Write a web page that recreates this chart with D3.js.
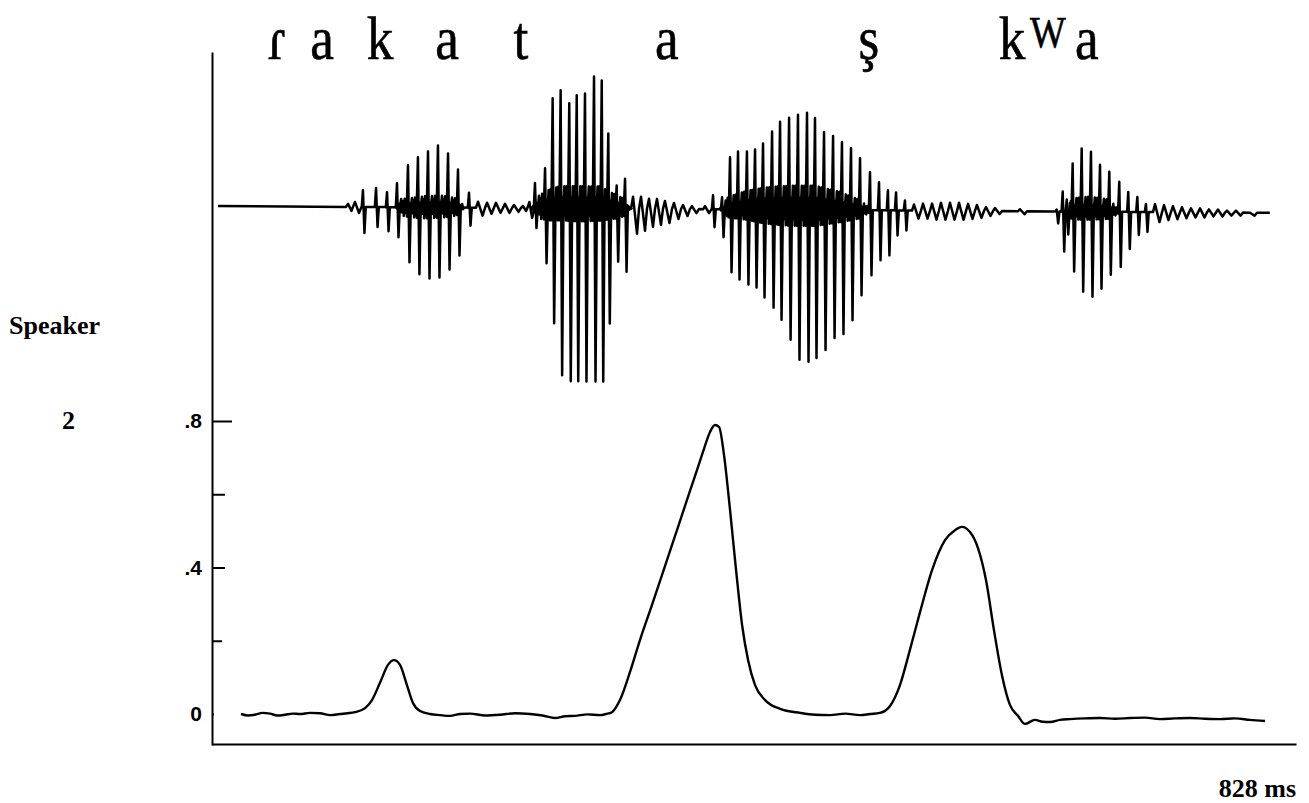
<!DOCTYPE html>
<html>
<head>
<meta charset="utf-8">
<script src="https://cdn.jsdelivr.net/npm/d3@7"></script>
<style>
  html, body { margin: 0; padding: 0; background: #fff; }
  svg { display: block; }
</style>
</head>
<body>
<svg id="chart" width="1309" height="803"></svg>
<script>
// ---- data ---------------------------------------------------------------

// Length of the recorded utterance (ms)
const durationMs = 828;

// Phone transcription written above the waveform and the time (ms) each sits at
const phoneLabels = ["ɾ", "a", "k", "a", "t", "a", "ş", "k", "W", "a"];
const phoneTimes  = [49.6, 84.0, 128.3, 179.5, 236.0, 347.5, 501.8, 611.1, 638.5, 668.3];
const phoneRaised = [false, false, false, false, false, false, false, false, true, false];

// Waveform extent (ms)
const waveStartMs = 4.6;
const waveEndMs = 808.0;

// Glottal pulses of the voiced stretches: [time ms, positive peak, negative peak] (relative amplitude)
const pulsesRa = [
  [115.3, 0.085, 0.13], [125.3, 0.095, 0.10], [133.7, 0.075, 0.12], [141.3, 0.12, 0.15],
  [149.7, 0.21, 0.275], [157.3, 0.25, 0.335], [165.0, 0.28, 0.355], [172.6, 0.31, 0.35],
  [180.3, 0.27, 0.31], [187.9, 0.19, 0.24], [196.3, 0.075, 0.09]
];
const pulsesKa = [
  [246.7, 0.125, 0.10], [254.4, 0.20, 0.275], [260.2, 0.55, 0.575], [266.3, 0.59, 0.835],
  [272.9, 0.525, 0.865], [278.6, 0.565, 0.865], [284.9, 0.575, 0.865], [291.8, 0.66, 0.865],
  [297.7, 0.64, 0.865], [302.7, 0.375, 0.575], [309.1, 0.115, 0.265], [315.5, 0.15, 0.315]
];
const pulsesTa = [
  [382.7, 0.07, 0.09], [389.6, 0.06, 0.14], [395.7, 0.26, 0.315], [401.8, 0.29, 0.35],
  [408.6, 0.29, 0.375], [414.8, 0.30, 0.39], [420.9, 0.33, 0.44], [427.8, 0.39, 0.49],
  [433.9, 0.44, 0.55], [440.8, 0.46, 0.65], [447.6, 0.475, 0.75], [454.5, 0.485, 0.76],
  [460.6, 0.46, 0.74], [467.5, 0.39, 0.70], [474.4, 0.37, 0.64], [481.2, 0.34, 0.62],
  [488.1, 0.31, 0.55], [495.0, 0.26, 0.425], [502.6, 0.19, 0.325], [509.5, 0.14, 0.25],
  [516.3, 0.10, 0.225], [522.5, 0.09, 0.125], [529.3, 0.05, 0.10]
];
const pulsesKwa = [
  [645.2, 0.01, 0.06], [649.8, 0.10, 0.20], [652.9, 0.06, 0.115], [657.4, 0.24, 0.30],
  [664.3, 0.315, 0.40], [671.4, 0.30, 0.425], [678.3, 0.235, 0.385], [685.4, 0.20, 0.315],
  [693.0, 0.15, 0.275], [699.9, 0.10, 0.185], [706.8, 0.075, 0.115], [713.4, 0.04, 0.10]
];

// Low-level ripple (release noise / fricative): [time ms, positive peak, negative peak]
const ripples = [
  [103.9, 0.015, 0.02], [109.2, 0.025, 0.03],
  [203.2, 0.03, 0.04], [210.1, 0.025, 0.03], [216.9, 0.025, 0.025], [223.8, 0.02, 0.025],
  [230.7, 0.015, 0.02], [237.5, 0.01, 0.015], [242.4, 0.03, 0.05],
  [321.6, 0.06, 0.125], [327.7, 0.06, 0.11], [333.8, 0.05, 0.09], [339.9, 0.05, 0.08],
  [346.0, 0.04, 0.07], [352.9, 0.03, 0.05], [359.8, 0.02, 0.035], [366.6, 0.015, 0.02],
  [376.6, 0.015, 0.02],
  [536.2, 0.03, 0.04], [543.1, 0.035, 0.04], [550.0, 0.035, 0.045], [556.8, 0.04, 0.045],
  [563.7, 0.04, 0.045], [570.6, 0.04, 0.045], [577.5, 0.035, 0.04], [584.3, 0.03, 0.035],
  [591.2, 0.02, 0.025], [598.1, 0.015, 0.015], [617.2, 0.01, 0.015],
  [720.3, 0.04, 0.05], [727.2, 0.035, 0.04], [734.0, 0.03, 0.035], [740.9, 0.025, 0.03],
  [747.8, 0.02, 0.025], [754.7, 0.02, 0.025], [761.5, 0.015, 0.02], [768.4, 0.015, 0.02],
  [775.3, 0.01, 0.015], [782.2, 0.01, 0.015], [792.9, 0.0, 0.015]
];

// Dense inter-pulse energy of each vowel: [time ms, extent above, extent below]
const denseRa  = [[139.8, 0, 0], [142.1, 0.04, 0.04], [151.2, 0.045, 0.05], [162.7, 0.055, 0.055],
                  [174.2, 0.06, 0.05], [183.3, 0.05, 0.045], [189.4, 0.04, 0.03], [192.5, 0, 0]];
const denseKa  = [[242.9, 0, 0], [246.7, 0.05, 0.05], [256.7, 0.09, 0.06], [265.8, 0.11, 0.06],
                  [281.1, 0.11, 0.065], [296.4, 0.11, 0.06], [307.8, 0.07, 0.05], [317.7, 0.04, 0.03], [321.6, 0, 0]];
const denseTa  = [[387.3, 0, 0], [394.1, 0.06, 0.04], [407.1, 0.09, 0.05], [422.4, 0.11, 0.07],
                  [441.5, 0.12, 0.08], [460.6, 0.12, 0.08], [479.7, 0.09, 0.06], [495.0, 0.05, 0.04], [504.1, 0, 0]];
const denseKwa = [[652.3, 0, 0], [656.9, 0.065, 0.04], [670.6, 0.075, 0.04], [685.9, 0.06, 0.035], [693.5, 0, 0]];

// Lower trace: time (ms) and value
const traceMs = [
  22.2, 27.5, 32.8, 38.6, 44.3, 50.0, 55.8, 61.5, 67.2, 74.9, 82.5, 90.2, 97.8, 103.5, 109.2,
  116.9, 122.2, 128.3, 134.4, 139.0, 143.6, 148.9, 153.5, 158.9, 166.5, 174.2, 181.8, 189.5,
  197.1, 208.6, 220.0, 231.5, 242.9, 252.5, 262.0, 269.7, 277.3, 286.9, 296.4, 301.0, 305.5,
  311.6, 319.3, 326.9, 336.1, 346.0, 356.0, 365.1, 371.2, 375.8, 380.4, 384.2, 387.3, 391.1,
  395.7, 400.3, 404.9, 409.5, 414.8, 422.5, 433.9, 449.2, 460.6, 472.1, 483.6, 495.0, 502.6,
  510.2, 517.9, 525.5, 533.1, 540.8, 550.0, 559.9, 567.5, 572.9, 579.0, 585.1, 591.2, 597.3,
  603.4, 609.5, 615.6, 621.0, 628.6, 634.4, 640.1, 647.8, 655.4, 666.9, 678.3, 689.8, 701.2,
  712.7, 724.1, 735.6, 747.0, 758.5, 769.9, 781.4, 792.8, 804.3
];
const traceValues = [
  0.000, -0.004, -0.002, 0.003, 0.001, -0.004, -0.002, 0.001, 0.000, 0.003, 0.002, -0.003, 0.000, 0.002, 0.005,
  0.016, 0.038, 0.085, 0.134, 0.147, 0.134, 0.079, 0.030, 0.008, 0.000, -0.003, -0.005, 0.000,
  0.001, -0.004, -0.002, 0.002, 0.000, -0.004, -0.011, -0.006, -0.005, -0.001, -0.003, 0.000, 0.005,
  0.038, 0.115, 0.202, 0.298, 0.404, 0.511, 0.609, 0.674, 0.724, 0.770, 0.789, 0.784, 0.707,
  0.557, 0.393, 0.243, 0.147, 0.079, 0.038, 0.014, 0.003, -0.002, -0.003, 0.001, -0.003, 0.000,
  0.003, 0.022, 0.079, 0.175, 0.278, 0.393, 0.475, 0.502, 0.511, 0.497, 0.453, 0.366, 0.229,
  0.106, 0.025, -0.005, -0.027, -0.016, -0.021, -0.022, -0.016, -0.014, -0.012, -0.011, -0.013, -0.011,
  -0.010, -0.014, -0.012, -0.011, -0.013, -0.014, -0.012, -0.016, -0.019
];

// Value axis ticks and their labels
const tickValues = [0, 0.2, 0.4, 0.6, 0.8];
const tickLabels = ["0", "", ".4", "", ".8"];

// Side and end captions
const speakerCaption = ["Speaker", "2"];
const durationCaption = durationMs + " ms";

// ---- layout -------------------------------------------------------------

const svg = d3.select("#chart");
const ink = "#000";

const x = d3.scaleLinear().domain([0, durationMs]).range([212, 1296]);

// Lower trace scale; the axis line runs past the tick range
const y = d3.scaleLinear().domain([0, 0.8]).range([714, 421]);
const yAxisScale = y.copy().domain([y.invert(745), y.invert(52)]).range([745, 52]);

// Waveform: baseline (slight recorder drift) and amplitude scale
const baseline = d3.scaleLinear().domain([0, durationMs]).range([206, 213]);
const amp = d3.scaleLinear().domain([0, 1]).range([0, 200]);

// Extent of the dense energy at time t (linear between the listed points)
const denseSets = [denseRa, denseKa, denseTa, denseKwa];
function denseAt(t) {
  for (const s of denseSets) {
    if (t < s[0][0] || t > s[s.length - 1][0]) continue;
    for (let k = 0; k < s.length - 1; k++) {
      const a = s[k], b = s[k + 1];
      if (t >= a[0] && t <= b[0]) {
        const f = (t - a[0]) / (b[0] - a[0]);
        return [a[1] + f * (b[1] - a[1]), a[2] + f * (b[2] - a[2])];
      }
    }
  }
  return [0, 0];
}

// ---- waveform -----------------------------------------------------------

const events = []
  .concat(pulsesRa, pulsesKa, pulsesTa, pulsesKwa).map(p => ({ t: p[0], up: p[1], dn: p[2], kind: "pulse" }))
  .concat(ripples.map(p => ({ t: p[0], up: p[1], dn: p[2], kind: "ripple" })))
  .sort((a, b) => a.t - b.t);

const pts = [[x(waveStartMs), baseline(waveStartMs)]];
events.forEach((e, i) => {
  const X = x(e.t), B = baseline(e.t);
  const next = events[i + 1];
  if (e.kind === "pulse") {
    pts.push([X - 1.2, B], [X, B - amp(e.up)], [X + 1.5, B + amp(e.dn)], [X + 2.8, B]);
    // secondary oscillations inside the period, bounded by the dense-energy extent
    if (next && next.kind === "pulse") {
      const nx = x(next.t);
      const gap = nx - X - 4.0;
      [0.2, 0.45, 0.7, 0.9].forEach((f, k) => {
        const tx = X + 2.8 + gap * f;
        const d = denseAt(x.invert(tx));
        const up = amp(d[0]) * (k % 2 ? 0.7 : 1.0);
        const dn = amp(d[1]) * (k % 2 ? 1.0 : 0.6);
        pts.push([tx, B - up], [tx + gap * 0.12, B + dn]);
      });
      pts.push([nx - 1.2, baseline(next.t)]);
    }
  } else {
    const nx = next ? x(next.t) : X + 9;
    const half = Math.min(4.5, (nx - X) / 2);
    pts.push([X - 2, B], [X, B - amp(e.up)], [X + half, B + amp(e.dn)]);
    if (!next || next.kind === "pulse" || nx - X > 12) pts.push([X + half + 2.5, B]);
  }
});
pts.push([x(waveEndMs), baseline(waveEndMs)]);

const waveG = svg.append("g").attr("class", "waveform");

// solid core of the dense energy
const denseArea = d3.area()
  .x(d => x(d[0]))
  .y0(d => baseline(d[0]) - amp(d[1]) * 0.55)
  .y1(d => baseline(d[0]) + amp(d[2]) * 0.55)
  .curve(d3.curveLinear);

waveG.selectAll("path.dense")
  .data(denseSets)
  .join("path")
  .attr("class", "dense")
  .attr("d", denseArea)
  .attr("fill", ink);

waveG.append("path")
  .attr("d", d3.line()(pts))
  .attr("fill", "none")
  .attr("stroke", ink)
  .attr("stroke-width", 2.5)
  .attr("stroke-linejoin", "round");

// ---- phone labels -------------------------------------------------------

svg.append("g").attr("class", "phones")
  .selectAll("text")
  .data(phoneLabels)
  .join("text")
  .attr("transform", (d, i) => `translate(${x(phoneTimes[i])},${phoneRaised[i] ? 47 : 59}) scale(0.86,1)`)
  .attr("text-anchor", "middle")
  .attr("font-family", "'Liberation Serif', 'DejaVu Serif', serif")
  .attr("font-size", (d, i) => phoneRaised[i] ? 44 : 62)
  .attr("fill", ink)
  .attr("stroke", ink)
  .attr("stroke-width", 0.6)
  .text(d => d);

// ---- lower trace and axes ----------------------------------------------

const yAxis = d3.axisLeft(yAxisScale)
  .tickValues(tickValues)
  .tickFormat((d, i) => tickLabels[i])
  .tickSizeInner(-12)
  .tickSizeOuter(0)
  .tickPadding(10);

const tickLen = [2, 10, 13, 13, 20];
const yAxisG = svg.append("g").attr("transform", "translate(212,0)").call(yAxis);
yAxisG.select(".domain").attr("stroke", ink).attr("stroke-width", 2);
yAxisG.selectAll(".tick line").attr("stroke", ink).attr("stroke-width", 2)
  .attr("x2", (d, i) => tickLen[i]);
yAxisG.selectAll(".tick text")
  .attr("font-family", "'Liberation Sans', Arial, sans-serif")
  .attr("font-size", 21)
  .attr("font-weight", "bold")
  .attr("fill", ink);

const xAxis = d3.axisBottom(x).tickValues([]).tickSizeOuter(0);
const xAxisG = svg.append("g").attr("transform", "translate(0,744)").call(xAxis);
xAxisG.select(".domain").attr("stroke", ink).attr("stroke-width", 2);

const trace = d3.line()
  .x((d, i) => x(traceMs[i]))
  .y(d => y(d))
  .curve(d3.curveMonotoneX);

svg.append("path")
  .attr("d", trace(traceValues))
  .attr("fill", "none")
  .attr("stroke", ink)
  .attr("stroke-width", 2.4)
  .attr("stroke-linejoin", "round");

// ---- captions -----------------------------------------------------------

const serifBold = { family: "'Liberation Serif', 'DejaVu Serif', serif", size: 26 };

svg.append("text")
  .attr("x", 9).attr("y", 334)
  .attr("font-family", serifBold.family).attr("font-size", serifBold.size)
  .attr("font-weight", "bold").attr("fill", ink)
  .text(speakerCaption[0]);

svg.append("text")
  .attr("x", 62).attr("y", 429)
  .attr("font-family", serifBold.family).attr("font-size", serifBold.size)
  .attr("font-weight", "bold").attr("fill", ink)
  .text(speakerCaption[1]);

svg.append("text")
  .attr("x", 1296).attr("y", 797)
  .attr("text-anchor", "end")
  .attr("font-family", serifBold.family).attr("font-size", serifBold.size)
  .attr("font-weight", "bold").attr("fill", ink)
  .text(durationCaption);
</script>
</body>
</html>
